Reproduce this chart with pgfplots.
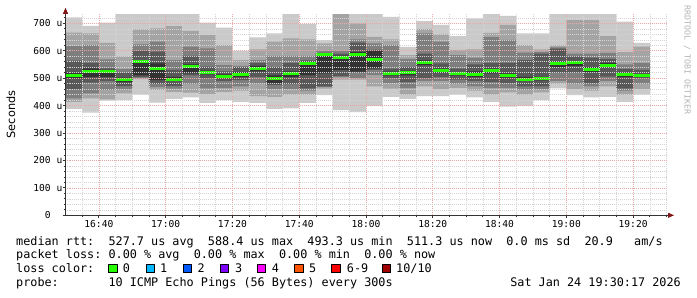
\documentclass[border=0pt]{standalone}
\usepackage{pgfplots}
\pgfplotsset{compat=1.18}
\usepackage{pgfplotstable}
\usepgfplotslibrary{fillbetween}
\usetikzlibrary{arrows.meta}
\usepackage{fontspec}
\setmainfont{DejaVu Sans Mono}
\newfontfamily\sansfont{DejaVu Sans}
\definecolor{s1}{RGB}{202,202,202}
\definecolor{s2}{RGB}{164,164,164}
\definecolor{s3}{RGB}{126,126,126}
\definecolor{s4}{RGB}{88,88,88}
\definecolor{s5}{RGB}{50,50,50}
\definecolor{lc0}{RGB}{38,255,0}
\definecolor{lc1}{RGB}{0,184,255}
\definecolor{lc2}{RGB}{0,89,255}
\definecolor{lc3}{RGB}{126,0,255}
\definecolor{lc4}{RGB}{255,0,255}
\definecolor{lc5}{RGB}{255,85,0}
\definecolor{lc6}{RGB}{255,0,0}
\definecolor{lc10}{RGB}{161,0,0}
\definecolor{mgrid}{RGB}{236,168,168}
\definecolor{mingrid}{RGB}{212,212,212}
\definecolor{arrowred}{RGB}{130,20,20}
\definecolor{wm}{RGB}{180,180,180}

\pgfplotstableread{
t   p1  p2  p3  p4  p5  p6  p7  p8  p9  p10 med
0   388 414 426 460 500 520 564 617 666 722 509
5   374 426 445 484 505 536 556 621 663 691 524
10  418 423 457 490 505 530 536 569 629 703 524
15  420 445 460 471 486 502 520 533 580 740 494
20  440 497 500 505 510 566 600 623 678 740 561
25  411 457 467 479 493 554 597 633 682 740 535
30  425 450 462 472 490 505 530 566 690 740 497
35  430 447 478 510 518 550 581 615 673 740 542
40  410 442 463 500 514 528 542 609 657 703 521
45  420 450 465 490 500 514 525 548 621 684 508
50  414 455 470 493 505 522 540 545 566 600 515
55  410 435 481 505 525 545 555 566 605 649 536
60  388 432 460 476 482 510 540 581 633 663 498
65  390 440 460 478 505 525 555 581 645 740 516
70  410 440 455 463 511 560 565 581 642 697 554
75  438 462 468 470 518 590 592 600 627 639 585
80  384 495 505 508 530 582 590 600 740 740 577
85  376 495 500 520 524 595 630 642 700 740 588
90  398 470 512 530 536 600 603 627 651 740 567
95  432 462 482 500 510 524 535 621 642 724 518
100 425 440 465 487 510 528 540 570 584 614 520
105 435 470 490 500 548 565 590 663 680 708 557
110 435 460 490 505 520 535 554 633 660 694 527
115 440 465 480 495 510 522 535 584 603 653 516
120 430 455 470 490 505 525 550 575 605 718 515
125 414 440 465 487 518 535 555 650 665 740 527
130 396 448 465 482 502 518 556 640 694 727 510
135 398 440 458 470 490 505 566 593 621 663 496
140 420 448 460 470 492 505 590 595 605 663 498
145 463 480 490 520 540 560 608 612 620 740 553
150 438 460 480 520 545 562 580 590 712 740 556
155 430 455 470 481 522 540 575 590 712 740 532
160 432 470 490 506 540 555 570 591 653 740 548
165 414 440 455 463 505 520 533 550 595 706 513
170 440 460 480 500 505 516 530 555 615 629 511
175 440 460 480 500 505 516 530 555 615 629 511
}\smoke

\newcommand\legfont{\fontsize{11.8bp}{14bp}\selectfont}
\newcommand\tickfont{\fontsize{9.6bp}{11bp}\selectfont}
\newcommand\wmfont{\fontsize{8.3bp}{10bp}\selectfont}
\newcommand\lbox[1]{{\fboxsep=0pt\fboxrule=0.7bp\fcolorbox{black}{#1}{\rule{0pt}{7.6bp}\rule{7.6bp}{0pt}}}}

\begin{document}
\begin{tikzpicture}[x=1bp,y=1bp]
\begin{axis}[
  at={(0,0)}, anchor=south west,
  scale only axis, width=601bp, height=201bp,
  xmin=0, xmax=180, ymin=0, ymax=733,
  axis lines=left,
  axis line style={draw=black!80, line width=0.8bp},
  x axis line style={-{Triangle[length=6bp,width=5bp,color=arrowred]}, shorten >=-7.5bp},
  y axis line style={-{Triangle[length=6bp,width=5bp,color=arrowred]}, shorten >=-6.5bp},
  xtick={10,30,...,170},
  xticklabels={16:40,17:00,17:20,17:40,18:00,18:20,18:40,19:00,19:20},
  minor xtick={5,15,20,25,35,40,45,55,60,65,75,80,85,95,100,105,115,120,125,135,140,145,155,160,165,175,180},
  ytick={0,100,...,700},
  yticklabels={0\phantom{~u},100~u,200~u,300~u,400~u,500~u,600~u,700~u},
  minor ytick={20,40,60,80,120,140,160,180,220,240,260,280,320,340,360,380,420,440,460,480,520,540,560,580,620,640,660,680,720},
  grid=both,
  major grid style={draw=mgrid, line width=0.6bp, dash pattern=on 1bp off 1bp},
  minor grid style={draw=mingrid, line width=0.6bp, dash pattern=on 1bp off 1bp},
  tick style={draw=black!80, line width=0.8bp},
  major tick length=3bp, minor tick length=2bp,
  tick align=outside,
  axis on top,
  tick label style={font=\tickfont, inner sep=0pt},
  yticklabel style={anchor=east},
  xticklabel style={anchor=north, yshift=-2bp},
]
\addplot[draw=none, name path=a1, const plot mark left, forget plot] table[x=t,y=p1]{\smoke};
\addplot[draw=none, name path=a2, const plot mark left, forget plot] table[x=t,y=p2]{\smoke};
\addplot[draw=none, name path=a3, const plot mark left, forget plot] table[x=t,y=p3]{\smoke};
\addplot[draw=none, name path=a4, const plot mark left, forget plot] table[x=t,y=p4]{\smoke};
\addplot[draw=none, name path=a5, const plot mark left, forget plot] table[x=t,y=p5]{\smoke};
\addplot[draw=none, name path=a6, const plot mark left, forget plot] table[x=t,y=p6]{\smoke};
\addplot[draw=none, name path=a7, const plot mark left, forget plot] table[x=t,y=p7]{\smoke};
\addplot[draw=none, name path=a8, const plot mark left, forget plot] table[x=t,y=p8]{\smoke};
\addplot[draw=none, name path=a9, const plot mark left, forget plot] table[x=t,y=p9]{\smoke};
\addplot[draw=none, name path=a10, const plot mark left, forget plot] table[x=t,y=p10]{\smoke};
\addplot[fill=s1, draw=none] fill between[of=a10 and a1];
\addplot[fill=s2, draw=none] fill between[of=a9 and a2];
\addplot[fill=s3, draw=none] fill between[of=a8 and a3];
\addplot[fill=s4, draw=none] fill between[of=a7 and a4];
\addplot[fill=s5, draw=none] fill between[of=a6 and a5];
\addplot[jump mark left, draw=lc0, line width=3bp] table[x=t,y=med]{\smoke};
\end{axis}
\node[rotate=90, font=\sansfont\fontsize{11.3bp}{13bp}\selectfont, inner sep=0pt] at (-54.6,100.8) {Seconds};
\node[rotate=-90, font=\wmfont, text=wm, inner sep=0pt] at (621.8,155.3) {RRDTOOL / TOBI OETIKER};
\node[anchor=base west, inner sep=0pt, font=\legfont] at (-49.5,-29.7) {median rtt:~~527.7~us~avg~~588.4~us~max~~493.3~us~min~~511.3~us~now~~0.0~ms~sd~~20.9~~~am/s};
\node[anchor=base west, inner sep=0pt, font=\legfont] at (-49.5,-43.4) {packet loss:~0.00~\%~avg~~0.00~\%~max~~0.00~\%~min~~0.00~\%~now};
\node[anchor=base west, inner sep=0pt, font=\legfont] at (-49.5,-57.2) {loss color:};
\node[anchor=south west, inner sep=0pt] at (42.8,-58.0) {\lbox{lc0}};
\node[anchor=south west, inner sep=0pt] at (80.2,-58.0) {\lbox{lc1}};
\node[anchor=south west, inner sep=0pt] at (117.2,-58.0) {\lbox{lc2}};
\node[anchor=south west, inner sep=0pt] at (153.8,-58.0) {\lbox{lc3}};
\node[anchor=south west, inner sep=0pt] at (191.2,-58.0) {\lbox{lc4}};
\node[anchor=south west, inner sep=0pt] at (228.5,-58.0) {\lbox{lc5}};
\node[anchor=south west, inner sep=0pt] at (265.5,-58.0) {\lbox{lc6}};
\node[anchor=south west, inner sep=0pt] at (316.2,-58.0) {\lbox{lc10}};
\node[anchor=base west, inner sep=0pt, font=\legfont] at (57.2,-57.2) {0};
\node[anchor=base west, inner sep=0pt, font=\legfont] at (94.5,-57.2) {1};
\node[anchor=base west, inner sep=0pt, font=\legfont] at (131.8,-57.2) {2};
\node[anchor=base west, inner sep=0pt, font=\legfont] at (169.5,-57.2) {3};
\node[anchor=base west, inner sep=0pt, font=\legfont] at (206.2,-57.2) {4};
\node[anchor=base west, inner sep=0pt, font=\legfont] at (243.5,-57.2) {5};
\node[anchor=base west, inner sep=0pt, font=\legfont] at (281.2,-57.2) {6-9};
\node[anchor=base west, inner sep=0pt, font=\legfont] at (330.5,-57.2) {10/10};
\node[anchor=base west, inner sep=0pt, font=\legfont] at (-49.5,-70.9) {probe:~~~~~~~10~ICMP~Echo~Pings~(56~Bytes)~every~300s};
\node[anchor=base east, inner sep=0pt, font=\legfont] at (615.5,-70.9) {Sat~Jan~24~19:30:17~2026};
\pgfresetboundingbox
\useasboundingbox (-65.5,-81.7) rectangle (631.5,215.3);
\end{tikzpicture}
\end{document}
